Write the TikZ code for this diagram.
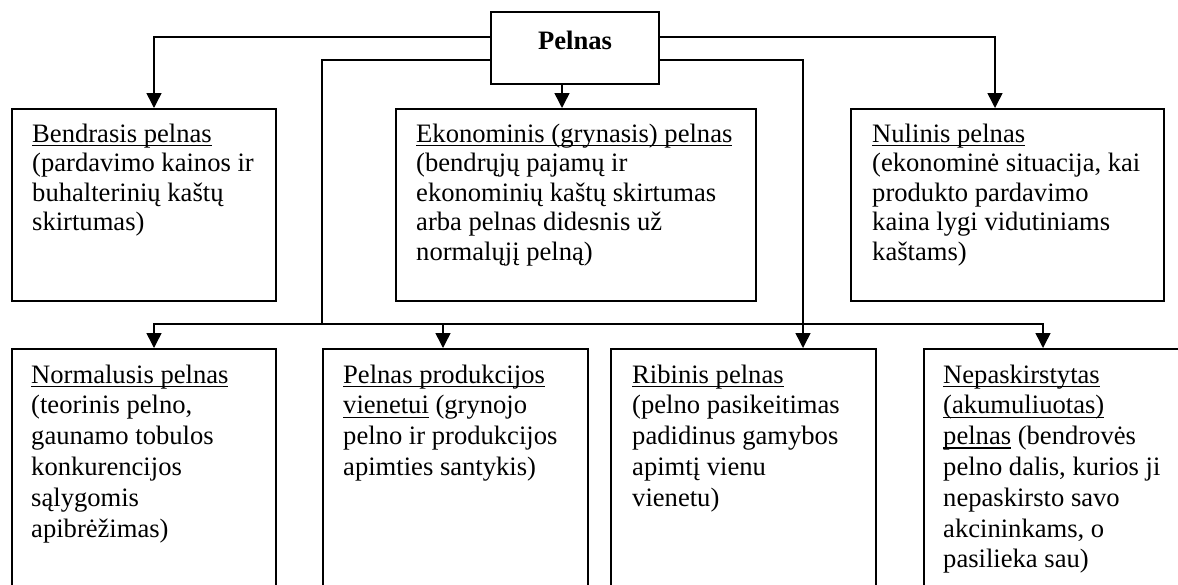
\documentclass[tikz,border=0pt]{standalone}
\usepackage{fontspec}
\setmainfont{Liberation Serif}
\usetikzlibrary{arrows.meta}
\newcommand\ulx[1]{\setbox0\hbox{#1}\rlap{\rule[-4.2pt]{\wd0}{1.5pt}}\box0\relax}
\newcommand\btext[2]{\fontsize{26.6}{#1}\selectfont\begin{tabular}[t]{@{}l@{}}#2\end{tabular}}
\tikzset{
  box/.style={draw, line width=1.5pt, inner sep=0pt, anchor=north west},
  txt/.style={inner sep=0pt, anchor=base west},
  conn/.style={line width=1.5pt},
  arr/.style={conn, -{Triangle[width=15pt,length=15pt]}}
}
\begin{document}
\begin{tikzpicture}[x=1pt, y=-1pt]
\useasboundingbox (0,0) rectangle (1178,584);
\clip (0,0) rectangle (1178,584);
\fill[white] (0,0) rectangle (1178,584);

% x positions of the arrows
\coordinate (xa) at (154,0);
\coordinate (xb) at (443,0);
\coordinate (xd) at (1043,0);
\coordinate (xe) at (562,0);
\coordinate (xf) at (995,0);
\coordinate (xg) at (803,0);
\coordinate (jn) at (322,324);

% main node
\node[draw, line width=1.5pt, inner sep=0pt, minimum width=168pt, minimum height=72pt,
      text height=18pt, text depth=16pt, font=\fontsize{26.6}{30}\selectfont\bfseries]
      (pel) at (575,48) {Pelnas};

% boxes
\node[box, minimum width=264pt, minimum height=192pt] (b1) at (11,108) {};
\node[box, minimum width=360pt, minimum height=192pt] (b2) at (395,108) {};
\node[box, minimum width=313pt, minimum height=192pt] (b3) at (850,108) {};
\node[box, minimum width=264pt, minimum height=260pt] (b4) at (11,348) {};
\node[box, minimum width=265pt, minimum height=260pt] (b5) at (322,348) {};
\node[box, minimum width=265pt, minimum height=260pt] (b6) at (610,348) {};
\node[box, minimum width=300pt, minimum height=260pt] (b7) at (923,348) {};

% texts
\node[txt] (t1) at (32,142) {\btext{29.5}{\ulx{Bendrasis pelnas}\\(pardavimo kainos ir\\buhalterinių kaštų\\skirtumas)}};
\node[txt] (t2) at (416,142) {\btext{29.5}{\ulx{Ekonominis (grynasis) pelnas}\\(bendrųjų pajamų ir\\ekonominių kaštų skirtumas\\arba pelnas didesnis už\\normalųjį pelną)}};
\node[txt] (t3) at (872,142) {\btext{29.5}{\ulx{Nulinis pelnas}\\(ekonominė situacija, kai\\produkto pardavimo\\kaina lygi vidutiniams\\kaštams)}};
\node[txt] (t4) at (31,383) {\btext{30.8}{\ulx{Normalusis pelnas}\\(teorinis pelno,\\gaunamo tobulos\\konkurencijos\\sąlygomis\\apibrėžimas)}};
\node[txt] (t5) at (343,383) {\btext{30.8}{\ulx{Pelnas produkcijos}\\\ulx{vienetui} (grynojo\\pelno ir produkcijos\\apimties santykis)}};
\node[txt] (t6) at (632,383) {\btext{30.8}{\ulx{Ribinis pelnas}\\(pelno pasikeitimas\\padidinus gamybos\\apimtį vienu\\vienetu)}};
\node[txt] (t7) at (943,383) {\btext{30.8}{\ulx{Nepaskirstytas}\\\ulx{(akumuliuotas)}\\\ulx{pelnas} (bendrovės\\pelno dalis, kurios ji\\nepaskirsto savo\\akcininkams, o\\pasilieka sau)}};

% connectors
\draw[arr] ([yshift=11pt]pel.west) -| (b1.north -| xa);
\draw[conn] ([yshift=-12pt]pel.west) -| (jn);
\draw[arr] (jn) -| (b4.north -| xa);
\draw[arr] (jn) -| (b5.north -| xb);
\draw[arr] (jn) -| (b7.north -| xd);
\draw[arr] (pel.south -| xe) -- (b2.north -| xe);
\draw[arr] ([yshift=11pt]pel.east) -| (b3.north -| xf);
\draw[arr] ([yshift=-12pt]pel.east) -| (b6.north -| xg);
\end{tikzpicture}
\end{document}
